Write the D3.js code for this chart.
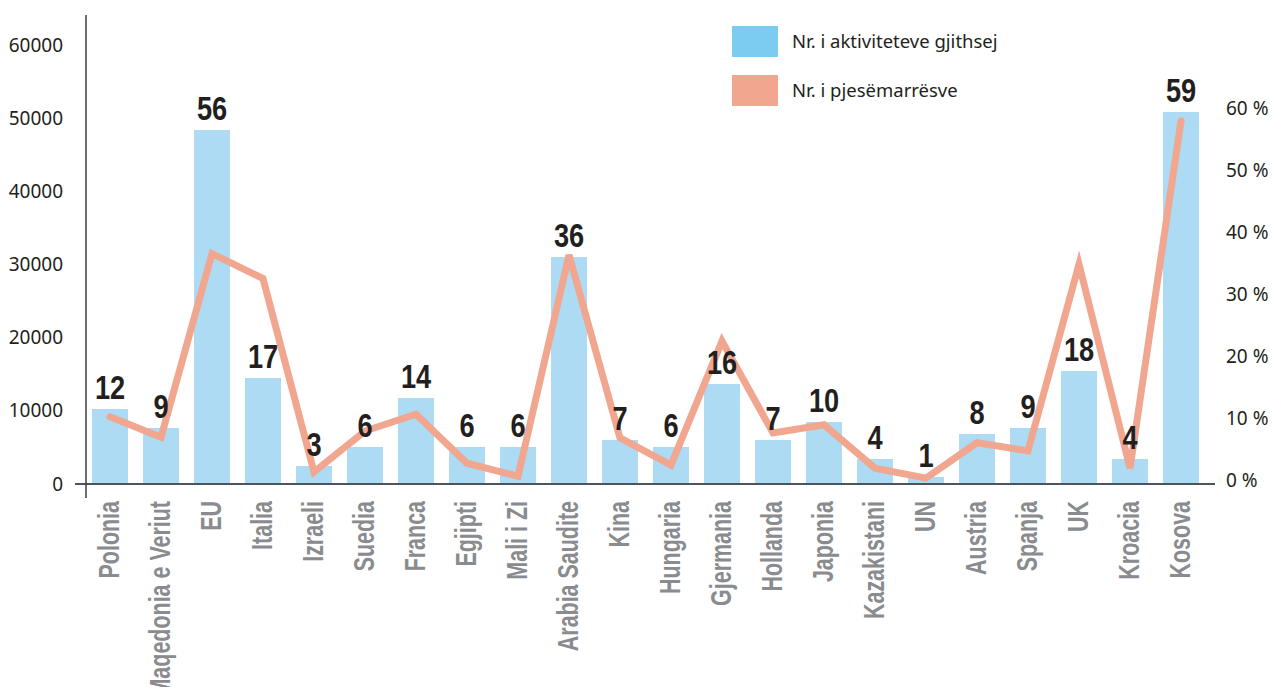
<!DOCTYPE html>
<html>
<head>
<meta charset="utf-8">
<script src="https://cdn.jsdelivr.net/npm/d3@7"></script>
<style>
  body { margin: 0; background: #fff; }
  svg { display: block; }
  .tick text { font-family: "Noto Sans", sans-serif; font-size: 19px; fill: #231f20; }
  .cat { font-family: "Liberation Sans Narrow", sans-serif; font-weight: bold; font-size: 29px; fill: #898b8e; }
  .cnt { font-family: "Liberation Sans Narrow", sans-serif; font-weight: bold; font-size: 34px; fill: #231f20; }
  .leg { font-family: "Noto Sans", sans-serif; font-size: 18.5px; fill: #231f20; }
</style>
</head>
<body>
<div id="chart"></div>
<script>
// categories (countries / organisations)
const countries = ["Polonia", "Maqedonia e Veriut", "EU", "Italia", "Izraeli", "Suedia", "Franca",
  "Egjipti", "Mali i Zi", "Arabia Saudite", "Kina", "Hungaria", "Gjermania", "Hollanda", "Japonia",
  "Kazakistani", "UN", "Austria", "Spanja", "UK", "Kroacia", "Kosova"];
// bars: Nr. i aktiviteteve gjithsej (left axis)
const activities = [10250, 7650, 48380, 14490, 2460, 5060, 11750, 5060, 5060, 31020, 6010, 5060,
  13660, 6010, 8470, 3420, 960, 6830, 7650, 15440, 3420, 50840];
// line: Nr. i pjesëmarrësve, in % (right axis)
const participants = [10.2, 6.9, 36.5, 32.5, 1.3, 7.9, 10.6, 2.7, 0.6, 36.3, 6.8, 2.4, 22.4, 7.6,
  8.9, 1.9, 0.3, 6.0, 4.7, 34.8, 1.9, 57.9];
// numbers printed above the bars
const counts = [12, 9, 56, 17, 3, 6, 14, 6, 6, 36, 7, 6, 16, 7, 10, 4, 1, 8, 9, 18, 4, 59];
const leftTicks = [0, 10000, 20000, 30000, 40000, 50000, 60000];
const rightTicks = [0, 10, 20, 30, 40, 50, 60];
const legendLabels = ["Nr. i aktiviteteve gjithsej", "Nr. i pjesëmarrësve"];

const W = 1272, H = 687;
const barColor = "#acdbf3", lineColor = "#f1a68f", legendBlue = "#7ccbf0";

const svg = d3.select("#chart").append("svg")
  .attr("width", W).attr("height", H);

const x = d3.scaleBand()
  .domain(countries)
  .range([84.5, 1206.5])
  .paddingInner(0.294)
  .paddingOuter(0.147);
const yL = d3.scaleLinear().domain([0, 60000]).range([484, 45]);
const yR = d3.scaleLinear().domain([0, 60]).range([480, 108]);
const cx = d => x(d) + x.bandwidth() / 2;

// bars
svg.append("g").selectAll("rect")
  .data(countries)
  .join("rect")
  .attr("x", d => x(d))
  .attr("width", x.bandwidth())
  .attr("y", (d, i) => yL(activities[i]))
  .attr("height", (d, i) => yL(0) - yL(activities[i]))
  .attr("fill", barColor);

// axis lines
svg.append("line")
  .attr("x1", 75).attr("x2", 1215)
  .attr("y1", yL(0)).attr("y2", yL(0))
  .attr("stroke", "#4b5560").attr("stroke-width", 2);
svg.append("line")
  .attr("x1", 86).attr("x2", 86)
  .attr("y1", 15).attr("y2", 498)
  .attr("stroke", "#3d3d3d").attr("stroke-width", 1.5);

// left axis
svg.append("g")
  .attr("transform", "translate(86,0)")
  .call(d3.axisLeft(yL).tickValues(leftTicks).tickFormat(d3.format("d")).tickSize(0).tickPadding(23))
  .call(g => g.select(".domain").remove());

// right axis
svg.append("g")
  .attr("transform", "translate(1226,0)")
  .call(d3.axisRight(yR).tickValues(rightTicks).tickFormat(d => d + " %").tickSize(0).tickPadding(0))
  .call(g => g.select(".domain").remove());

// line
const line = d3.line()
  .x((d, i) => cx(countries[i]))
  .y(d => yR(d));
svg.append("path")
  .datum(participants)
  .attr("d", line)
  .attr("fill", "none")
  .attr("stroke", lineColor)
  .attr("stroke-width", 7)
  .attr("stroke-linejoin", "miter")
  .attr("stroke-linecap", "round");

// counts above bars
svg.append("g").selectAll("text")
  .data(countries)
  .join("text")
  .attr("class", "cnt")
  .attr("text-anchor", "middle")
  .attr("transform", (d, i) => "translate(" + cx(d) + "," + (yL(activities[i]) - 10) + ") scale(0.8,1)")
  .text((d, i) => counts[i]);

// category labels
svg.append("g").selectAll("text")
  .data(countries)
  .join("text")
  .attr("class", "cat")
  .attr("text-anchor", "end")
  .attr("transform", d => "translate(" + (cx(d) + 9) + ",501) rotate(-90) scale(0.74,1)")
  .text(d => d);

// legend
const legend = svg.append("g").attr("transform", "translate(732,26)");
[legendBlue, lineColor].forEach((c, i) => {
  legend.append("rect")
    .attr("x", 0).attr("y", i * 49)
    .attr("width", 46).attr("height", 31)
    .attr("fill", c);
  legend.append("text")
    .attr("class", "leg")
    .attr("x", 60).attr("y", i * 49 + 16)
    .attr("dy", "0.35em")
    .text(legendLabels[i]);
});
</script>
</body>
</html>
